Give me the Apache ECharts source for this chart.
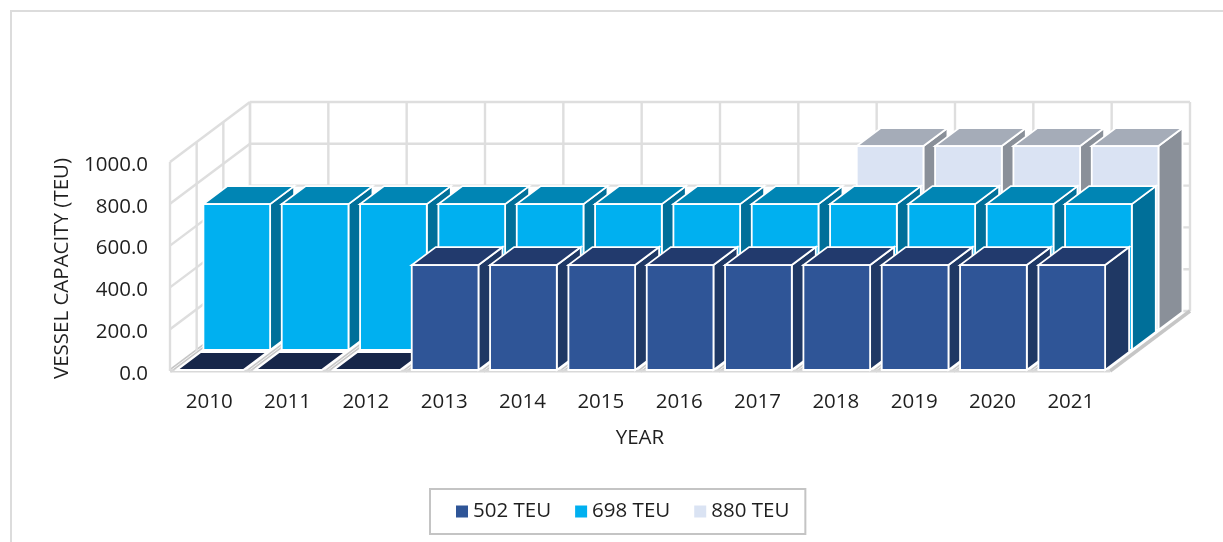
<!DOCTYPE html>
<html>
<head>
<meta charset="utf-8">
<style>html,body{margin:0;padding:0;background:#fff}#c{width:1223px;height:542px}</style>
<script src="https://cdn.jsdelivr.net/npm/echarts@6/dist/echarts.min.js"></script>
</head>
<body>
<div id="c"></div>
<script>
const categories = ['2010','2011','2012','2013','2014','2015','2016','2017','2018','2019','2020','2021'];
const yTicks = [0,200,400,600,800,1000];
const teu502 = [0,0,0,502,502,502,502,502,502,502,502,502];
const teu698 = [698,698,698,698,698,698,698,698,698,698,698,698];
const teu880 = [0,0,0,0,0,0,0,0,880,880,880,880];

const chart = echarts.init(document.getElementById('c'), null, {renderer:'canvas'});
const FONT = '"Open Sans"';
const FS = 20.5;
const TXT = '#1f1f1f';
const GRID = '#dedede';
const DEPTH_X = 80, DEPTH_Y = 60, ROWS = 3;
const BAR_W_RATIO = 66.7/78.33, BAR_DEPTH = 0.9, BAR_SHIFT = -0.4;

function poly(points, fill, stroke, lw){
  return {type:'polygon', shape:{points}, style:{fill, stroke: stroke||null, lineWidth: lw||0, lineJoin:'miter'}, silent:true};
}
function line(x1,y1,x2,y2,color,w){
  return {type:'line', shape:{x1,y1,x2,y2}, style:{stroke:color||GRID, lineWidth:w||2.4, fill:null}, silent:true};
}

function wallsItem(params, api){
  if(params.dataIndex !== 0) return {type:'group', children:[]};
  const n = categories.length;
  const xw = api.size([1,0])[0];
  const x0 = api.coord([0,0])[0] - xw/2;
  const y0 = api.coord([0,0])[1];
  const yTop = api.coord([0,yTicks[yTicks.length-1]])[1];
  const ch = [];
  yTicks.forEach(t=>{
    const y = api.coord([0,t])[1];
    ch.push(line(x0,y,x0+DEPTH_X,y-DEPTH_Y));
    ch.push(line(x0+DEPTH_X,y-DEPTH_Y,x0+n*xw+DEPTH_X,y-DEPTH_Y));
  });
  for(let i=0;i<=n;i++){
    const x = x0+i*xw;
    ch.push(line(x+DEPTH_X,yTop-DEPTH_Y,x+DEPTH_X,y0-DEPTH_Y));
    ch.push(line(x,y0,x+DEPTH_X,y0-DEPTH_Y,'#c6c6c6',i===n?3.5:4));
    if(i<n) ch.push(line(x,y0,x+DEPTH_X,y0-DEPTH_Y,'#f4f4f4',1));
  }
  for(let r=0;r<=ROWS;r++){
    const dx = DEPTH_X*r/ROWS, dy = DEPTH_Y*r/ROWS;
    ch.push(line(x0+dx,yTop-dy,x0+dx,y0-dy));
  }
  ch.push(line(x0,y0,x0+n*xw,y0,'#d9d9d9',3));
  return {type:'group', children:ch};
}

function barRenderer(row, colors){
  return function(params, api){
    const cat = api.value(0), val = api.value(1);
    const top0 = api.coord([cat,val]);
    const base0 = api.coord([cat,0]);
    const cw = api.size([1,0])[0];
    const rowDx = DEPTH_X/ROWS, rowDy = DEPTH_Y/ROWS;
    const inset = (1-BAR_DEPTH)/2;
    const ox = rowDx*(row+inset)+BAR_SHIFT, oy = rowDy*(row+inset);
    const dx = rowDx*BAR_DEPTH, dy = rowDy*BAR_DEPTH;
    const w = cw*BAR_W_RATIO;
    const l = top0[0]-w/2+ox, r = l+w;
    const t = top0[1]-oy, b = base0[1]-oy;
    const S = '#ffffff', LW = 1.8;
    const ch = [];
    if(val === 0){
      ch.push(poly([[l,b],[r,b],[r+dx,b-dy],[l+dx,b-dy]], colors.flat, S, LW));
    } else {
      ch.push(poly([[r,t],[r+dx,t-dy],[r+dx,b-dy],[r,b]], colors.side, S, LW));
      ch.push(poly([[l,t],[r,t],[r+dx,t-dy],[l+dx,t-dy]], colors.top, S, LW));
      ch.push(poly([[l,t],[r,t],[r,b],[l,b]], colors.front, S, LW));
    }
    return {type:'group', children:ch};
  };
}

function barSeries(name, values, row, colors){
  return {
    name, type:'custom', coordinateSystem:'cartesian2d',
    encode:{x:0,y:1}, clip:false, silent:true,
    itemStyle:{color:colors.front},
    renderItem: barRenderer(row, colors),
    data: values.map((v,i)=>[i,v])
  };
}

const c502 = {front:'#2F5597', side:'#1F3864', top:'#223A6D', flat:'#17274A'};
const c698 = {front:'#00B0F0', side:'#006F99', top:'#0085B4', flat:'#00668C'};
const c880 = {front:'#DAE3F3', side:'#8A9099', top:'#A5ACB8', flat:'#A5ACB8'};

chart.setOption({
  animation:false,
  backgroundColor:'#fff',
  textStyle:{fontFamily:FONT},
  grid:{left:170, right:113, top:162, bottom:171, containLabel:false},
  xAxis:{
    type:'category', data:categories, name:'YEAR', nameLocation:'middle', nameGap:57,
    nameTextStyle:{fontFamily:FONT,fontSize:FS,color:TXT},
    axisLine:{show:false}, axisTick:{show:false}, splitLine:{show:false},
    axisLabel:{fontFamily:FONT,fontSize:FS,color:TXT,margin:21,interval:0}
  },
  yAxis:{
    type:'value', min:0, max:1000, interval:200, name:'VESSEL CAPACITY (TEU)',
    nameLocation:'middle', nameGap:97, nameRotate:90,
    nameTextStyle:{fontFamily:FONT,fontSize:FS,color:TXT,padding:[0,4,0,0]},
    axisLine:{show:false}, axisTick:{show:false}, splitLine:{show:false},
    axisLabel:{fontFamily:FONT,fontSize:FS,color:TXT,margin:22,verticalAlign:'top',lineHeight:20,padding:[-7,0,0,0],formatter:v=>v.toFixed(1)}
  },
  legend:{
    show:true, data:['502 TEU','698 TEU','880 TEU'],
    left:430, top:489,
    padding:[12,16,12,26], itemGap:24, itemWidth:12, itemHeight:12,
    icon:'rect', borderColor:'#c4c4c4', borderWidth:2, backgroundColor:'#fff',
    textStyle:{fontFamily:FONT,fontSize:FS,color:TXT,padding:[2,0,0,0]}
  },
  graphic:[
    {type:'polyline', silent:true, z:-1,
     shape:{points:[[11,542],[11,11],[1223,11]]},
     style:{stroke:'#dcdcdc',lineWidth:2,fill:null}}
  ],
  series:[
    {name:'walls', type:'custom', coordinateSystem:'cartesian2d', encode:{x:0,y:1}, clip:false, silent:true,
     renderItem:wallsItem, data:[[0,0]]},
    barSeries('880 TEU', teu880, 2, c880),
    barSeries('698 TEU', teu698, 1, c698),
    barSeries('502 TEU', teu502, 0, c502)
  ]
});
</script>
</body>
</html>
